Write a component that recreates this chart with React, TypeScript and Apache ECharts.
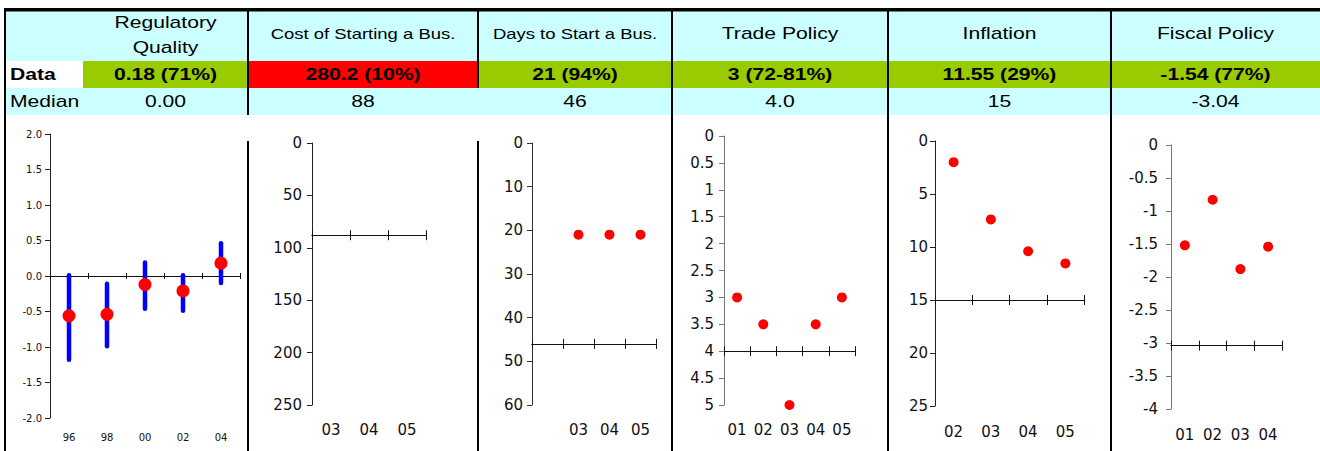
import React, { useEffect, useRef } from "react";
import * as echarts from "echarts";

// ---------- table data ----------
const headerTitles = ["Regulatory\nQuality", "Cost of Starting a Bus.", "Days to Start a Bus.", "Trade Policy", "Inflation", "Fiscal Policy"];
const dataTexts = ["0.18 (71%)", "280.2 (10%)", "21 (94%)", "3 (72-81%)", "11.55 (29%)", "-1.54 (77%)"];
const dataColors = ["#99CC00", "#FF0000", "#99CC00", "#99CC00", "#99CC00", "#99CC00"];
const medianTexts = ["0.00", "88", "46", "4.0", "15", "-3.04"];
const medianValues = [0, 88, 46, 4.0, 15, -3.04];

// ---------- chart data ----------
const regYears = ["96", "98", "00", "02", "04"];
const regValues = [-0.56, -0.54, -0.12, -0.21, 0.18];
const regHigh = [0.01, -0.11, 0.19, 0.01, 0.46];
const regLow = [-1.18, -0.99, -0.46, -0.49, -0.1];

const costYears = ["03", "04", "05"];
const costValues: (number | null)[] = [null, null, null]; // 280.2 is off the 0-250 scale

const daysYears = ["", "03", "04", "05"];
const daysValues: (number | null)[] = [null, 21, 21, 21];

const tradeYears = ["01", "02", "03", "04", "05"];
const tradeValues = [3, 3.5, 5, 3.5, 3];

const inflYears = ["02", "03", "04", "05"];
const inflValues = [2.0, 7.4, 10.4, 11.55];

const fiscYears = ["01", "02", "03", "04"];
const fiscValues = [-1.52, -0.83, -1.88, -1.54];

const yearsList = [regYears, costYears, daysYears, tradeYears, inflYears, fiscYears];
const valuesList = [regValues, costValues, daysValues, tradeValues, inflValues, fiscValues];

const scales = [
  { min: -2, max: 2, interval: 0.5, inverse: false },
  { min: 0, max: 250, interval: 50, inverse: true },
  { min: 0, max: 60, interval: 10, inverse: true },
  { min: 0, max: 5, interval: 0.5, inverse: true },
  { min: 0, max: 25, interval: 5, inverse: true },
  { min: -4, max: 0, interval: 0.5, inverse: false },
];

// ---------- layout ----------
const FONT = '"Liberation Sans", Arial, sans-serif';
const AXFONT = '"DejaVu Sans", sans-serif';
const SX = 1.32;
const colEdges = [83, 248, 478, 672, 888, 1111, 1320];
const headerSizes = [16, 14, 14, 16, 16, 16];

const layouts = [
  { left: 50, top: 134, width: 190, height: 284, font: 10, yMargin: 8, xMargin: 14, tick: 3, dot: 13, yLine: "#222" },
  { left: 312, top: 143, width: 114, height: 262, font: 15, yMargin: 10, xMargin: 17, tick: 5, dot: 10, yLine: "#222" },
  { left: 532, top: 143, width: 124, height: 262, font: 15, yMargin: 9, xMargin: 17, tick: 5, dot: 10, yLine: "#333" },
  { left: 724, top: 136, width: 131, height: 269, font: 15, yMargin: 10, xMargin: 17, tick: 5, dot: 10, yLine: "#777" },
  { left: 935, top: 141, width: 149, height: 265, font: 15, yMargin: 7, xMargin: 18, tick: 5, dot: 10, yLine: "#222" },
  { left: 1171, top: 145, width: 111, height: 264, font: 15, yMargin: 13, xMargin: 18, tick: 5, dot: 10, yLine: "#777" },
];

function txt(x: number, y: number, text: string, size: number, opts: any = {}) {
  const align = opts.align || "center";
  return {
    type: "text",
    x,
    y,
    scaleX: SX,
    z: 10,
    style: {
      text,
      fill: "#000",
      fontSize: size,
      fontFamily: FONT,
      fontWeight: opts.bold ? "bold" : "normal",
      align,
      textAlign: align,
      verticalAlign: "middle",
      textVerticalAlign: "middle",
    },
  };
}

function rect(x: number, y: number, w: number, h: number, fill: string, z = 1) {
  return { type: "rect", z, shape: { x, y, width: w, height: h }, style: { fill } };
}

function buildOption() {
  const graphic: any[] = [];
  // backgrounds
  graphic.push(rect(6, 11, 1314, 104, "#CCFFFF", 0));
  graphic.push(rect(6, 61, 77, 27, "#FFFFFF", 1));
  for (let i = 0; i < 6; i++) {
    graphic.push(rect(colEdges[i], 61, colEdges[i + 1] - colEdges[i], 27, dataColors[i], 1));
  }
  // borders
  graphic.push(rect(4, 8, 1316, 3.5, "#000", 5));
  graphic.push(rect(4, 8, 2, 443, "#000", 5));
  graphic.push(rect(247, 11, 2, 104, "#000", 5));
  graphic.push(rect(247, 141, 2, 310, "#000", 5));
  graphic.push(rect(477, 11, 2, 77, "#000", 5));
  graphic.push(rect(477, 141, 2, 310, "#000", 5));
  for (const xe of [671, 887, 1110]) graphic.push(rect(xe, 11, 2, 440, "#000", 5));

  // texts
  graphic.push(txt(10, 74.5, "Data", 16, { bold: true, align: "left" }));
  graphic.push(txt(10, 101, "Median", 16, { align: "left" }));
  for (let i = 0; i < 6; i++) {
    const cx = (colEdges[i] + colEdges[i + 1]) / 2;
    const lines = headerTitles[i].split("\n");
    if (lines.length === 2) {
      graphic.push(txt(cx, 22, lines[0], headerSizes[i]));
      graphic.push(txt(cx, 47, lines[1], headerSizes[i]));
    } else {
      graphic.push(txt(cx, 33.5, lines[0], headerSizes[i]));
    }
    graphic.push(txt(cx, 74.5, dataTexts[i], 16, { bold: true }));
    graphic.push(txt(cx, 101, medianTexts[i], 16));
  }

  const grid: any[] = [];
  const xAxis: any[] = [];
  const yAxis: any[] = [];
  const series: any[] = [];

  for (let i = 0; i < 6; i++) {
    const L = layouts[i];
    const S = scales[i];
    const med = medianValues[i];
    const years = yearsList[i];
    grid.push({ left: L.left, top: L.top, width: L.width, height: L.height, containLabel: false });

    const crossBase = {
      type: "category",
      gridIndex: i,
      data: years,
      axisLabel: { show: false },
      splitLine: { show: false },
    };
    // crossing axis, ticks up
    xAxis.push({
      ...crossBase,
      position: "top",
      axisLine: { show: true, onZero: true, onZeroAxisIndex: 2 * i + 1, lineStyle: { color: "#111", width: 1 } },
      axisTick: { show: true, inside: false, length: L.tick, interval: 0, lineStyle: { color: "#111" } },
    });
    // crossing axis, ticks down
    xAxis.push({
      ...crossBase,
      position: "bottom",
      axisLine: { show: true, onZero: true, onZeroAxisIndex: 2 * i + 1, lineStyle: { color: "#111", width: 1 } },
      axisTick: { show: true, inside: false, length: L.tick, interval: 0, lineStyle: { color: "#111" } },
    });
    // label axis at bottom
    xAxis.push({
      type: "category",
      gridIndex: i,
      data: years,
      position: "bottom",
      axisLine: { show: false, onZero: false },
      axisTick: { show: false },
      splitLine: { show: false },
      axisLabel: { show: true, interval: 0, margin: L.xMargin, fontSize: L.font, fontFamily: AXFONT, color: "#111" },
    });

    yAxis.push({
      type: "value",
      gridIndex: i,
      position: "left",
      min: S.min,
      max: S.max,
      interval: S.interval,
      inverse: S.inverse,
      axisLine: { show: true, onZero: false, lineStyle: { color: L.yLine, width: 1 } },
      axisTick: { show: true, length: 5, lineStyle: { color: L.yLine } },
      axisLabel: {
        margin: L.yMargin,
        fontSize: L.font,
        fontFamily: AXFONT,
        color: "#111",
        formatter: i === 0 ? (v: number) => v.toFixed(1) : undefined,
      },
      splitLine: { show: false },
    });
    // hidden axis, shifted by the median so the crossing axis sits at the median
    yAxis.push({
      type: "value",
      gridIndex: i,
      show: false,
      position: "right",
      min: S.min - med,
      max: S.max - med,
      inverse: S.inverse,
      splitLine: { show: false },
    });

    if (i === 0) {
      series.push({
        type: "custom",
        xAxisIndex: 0,
        yAxisIndex: 0,
        z: 2,
        data: regYears.map((_, k) => [k, regHigh[k], regLow[k]]),
        encode: { x: 0, y: [1, 2] },
        renderItem: (params: any, api: any) => {
          const top = api.coord([api.value(0), api.value(1)]);
          const bot = api.coord([api.value(0), api.value(2)]);
          return {
            type: "line",
            shape: { x1: top[0], y1: top[1], x2: bot[0], y2: bot[1] },
            style: { stroke: "#0000FF", lineWidth: 4.5, lineCap: "round" },
          };
        },
      });
    }
    series.push({
      type: "scatter",
      xAxisIndex: 3 * i,
      yAxisIndex: 2 * i,
      data: valuesList[i],
      symbol: "circle",
      symbolSize: L.dot,
      itemStyle: { color: "#FF0000", opacity: 1 },
      clip: false,
      z: 4,
    });
  }

  return {
    animation: false,
    backgroundColor: "#FFFFFF",
    grid,
    xAxis,
    yAxis,
    series,
    graphic,
  };
}

export default function App() {
  const ref = useRef<HTMLDivElement>(null);
  useEffect(() => {
    if (!ref.current) return;
    const chart = echarts.init(ref.current, null, { renderer: "svg" });
    chart.setOption(buildOption() as any);
    return () => chart.dispose();
  }, []);
  return <div ref={ref} style={{ position: "fixed", left: 0, top: 0, width: 1320, height: 451 }} />;
}
